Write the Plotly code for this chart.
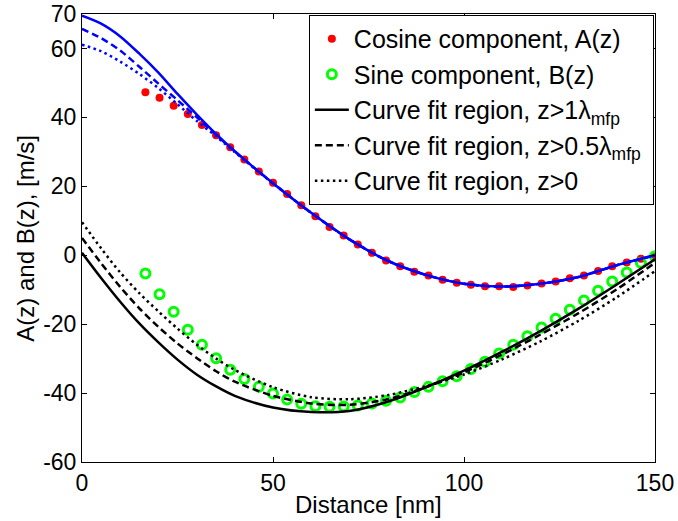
import plotly.graph_objects as go

# Measured data points (distance in nm)
x_pts = [16.6, 20.3, 24.0, 27.7, 31.4, 35.1, 38.8, 42.5, 46.3, 50.0,
         53.7, 57.4, 61.1, 64.8, 68.5, 72.2, 75.9, 79.6, 83.3, 87.0,
         90.7, 94.4, 98.1, 101.8, 105.5, 109.2, 112.9, 116.6, 120.3, 124.0,
         127.7, 131.4, 135.1, 138.8, 142.6, 146.3, 150.0]
cos_A = [47.3, 45.7, 43.4, 41.0, 37.8, 34.8, 31.3, 27.8, 24.3, 21.0,
         17.8, 14.5, 11.3, 8.2, 5.7, 3.1, 0.7, -1.5, -3.2, -4.8,
         -5.9, -7.1, -8.0, -8.6, -9.0, -9.0, -9.2, -8.8, -8.2, -7.6,
         -6.7, -5.9, -4.6, -3.2, -2.1, -1.0, -0.1]
sin_B = [-5.3, -11.3, -16.4, -21.6, -26.0, -29.9, -33.2, -35.9, -38.2, -40.1,
         -41.9, -43.1, -43.8, -44.0, -43.9, -43.6, -43.0, -42.2, -41.3, -39.7,
         -38.2, -36.6, -35.1, -33.0, -30.9, -28.5, -26.0, -23.5, -21.0, -18.4,
         -15.8, -13.1, -10.3, -7.6, -5.0, -2.2, -0.3]

# Fitted curves
x_fit = [0, 5, 10, 15, 20, 25, 30, 35, 40, 50, 60, 70, 80, 90, 100, 110, 120, 130, 140, 150]
A_fit_1 = [69.5, 67.2, 63.5, 58.5, 53.0, 46.8, 40.9, 35.3, 30.2, 20.9, 12.3, 4.6, -1.6, -5.7, -8.3, -9.1, -8.3, -6.3, -2.9, 0.0]
A_fit_05 = [65.7, 63.0, 59.4, 54.7, 49.8, 45.0, 40.1, 35.0, 30.1, 20.9, 12.3, 4.6, -1.6, -5.7, -8.3, -9.1, -8.3, -6.3, -2.9, 0.0]
A_fit_0 = [61.1, 59.2, 56.2, 52.6, 48.5, 43.8, 39.0, 34.6, 29.9, 20.8, 12.3, 4.6, -1.6, -5.7, -8.3, -9.1, -8.3, -6.3, -2.9, 0.0]
B_fit_1 = [0.7, -6.6, -13.5, -19.8, -25.3, -30.3, -34.6, -38.0, -40.8, -44.2, -45.5, -45.2, -42.5, -38.3, -33.5, -28.0, -22.0, -15.5, -8.5, -1.2]
B_fit_05 = [5.0, -2.3, -9.2, -15.4, -20.8, -25.6, -29.8, -33.6, -36.7, -40.8, -43.0, -43.4, -41.8, -38.3, -34.0, -28.8, -23.0, -16.8, -9.9, -2.2]
B_fit_0 = [9.6, 2.0, -5.0, -11.0, -16.3, -21.3, -25.9, -29.9, -33.3, -38.3, -41.2, -41.8, -40.6, -38.0, -34.6, -30.2, -25.0, -19.0, -12.2, -4.6]

y_ticks = [-60, -40, -20, 0, 20, 40, 60, 70]
y_tick_labels = ["-60", "-40", "-20", "0", "20", "40", "60", "70"]
x_ticks = [0, 50, 100, 150]
x_tick_labels = ["0", "50", "100", "150"]

FONT = "Liberation Sans, Arial, sans-serif"
DASH = "7px,4px"
DOT = "2.5px,3.5px"

fig = go.Figure()
fig.add_trace(go.Scatter(x=x_pts, y=cos_A, mode="markers", name="Cosine component, A(z)",
                         marker=dict(color="#ff0000", size=8, symbol="circle")))
fig.add_trace(go.Scatter(x=x_pts, y=sin_B, mode="markers", name="Sine component, B(z)",
                         marker=dict(color="#00ff00", size=9, symbol="circle-open",
                                     line=dict(color="#00ff00", width=3))))

# Blue (A) fits
for ys, d in [(A_fit_1, "solid"), (A_fit_05, DASH), (A_fit_0, DOT)]:
    fig.add_trace(go.Scatter(x=x_fit, y=ys, mode="lines", showlegend=False,
                             line=dict(color="#0000ff", width=2.5, dash=d, shape="spline", smoothing=0.8)))

# Black (B) fits with legend
for ys, d, nm in [(B_fit_1, "solid", "Curve fit region, z>1λ<sub>mfp</sub>"),
                  (B_fit_05, DASH, "Curve fit region, z>0.5λ<sub>mfp</sub>\u00a0"),
                  (B_fit_0, DOT, "Curve fit region, z>0")]:
    fig.add_trace(go.Scatter(x=x_fit, y=ys, mode="lines", name=nm,
                             line=dict(color="#000000", width=2.5, dash=d, shape="spline", smoothing=0.8)))

axis_common = dict(showline=True, linecolor="black", linewidth=1, mirror="ticks",
                   ticks="inside", ticklen=5, tickcolor="black", showgrid=False, zeroline=False,
                   automargin=False,
                   tickfont=dict(family=FONT, size=23, color="black"))

fig.update_layout(
    width=678, height=521,
    margin=dict(l=82, r=23, t=14, b=59),
    paper_bgcolor="white", plot_bgcolor="white",
    font=dict(family=FONT, size=23, color="black"),
    xaxis=dict(range=[0, 150], tickvals=x_ticks, ticktext=x_tick_labels, **axis_common),
    yaxis=dict(range=[-60, 70], tickvals=y_ticks, ticktext=y_tick_labels, **axis_common),
    legend=dict(x=0.998, y=0.998, xanchor="right", yanchor="top",
                bgcolor="white", bordercolor="black", borderwidth=1, itemwidth=34,
                font=dict(family=FONT, size=25, color="black")),
    annotations=[
        dict(text="Distance [nm]", xref="paper", yref="paper", x=0.5, y=-0.095,
             xanchor="center", yanchor="middle", showarrow=False,
             font=dict(family=FONT, size=24, color="black")),
        dict(text="A(z) and B(z), [m/s]", xref="paper", yref="paper", x=-0.1, y=0.5,
             xanchor="center", yanchor="middle", showarrow=False, textangle=-90,
             font=dict(family=FONT, size=24, color="black")),
    ],
)

fig.write_html("out.html", config={"displayModeBar": False},
               post_script="document.body.style.margin='0px';")
